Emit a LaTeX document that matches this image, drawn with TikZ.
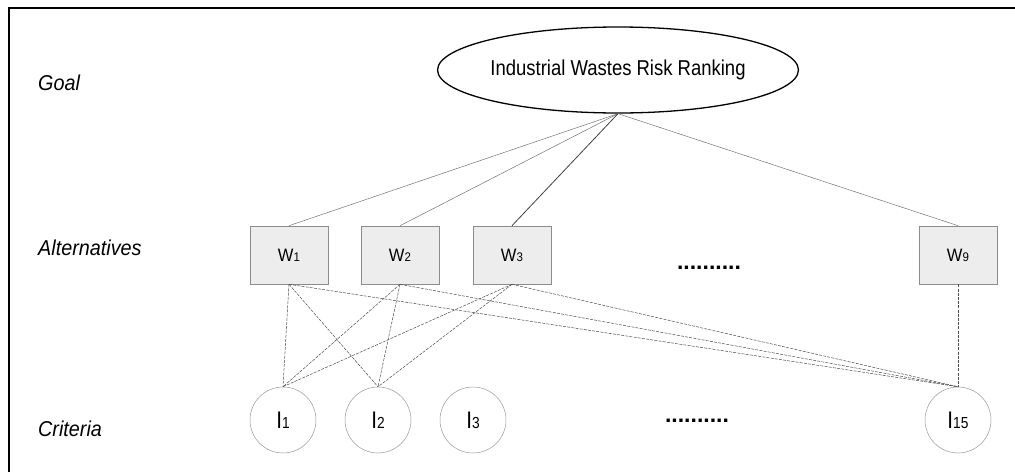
\documentclass[tikz,border=0pt]{standalone}
\usepackage{fontspec}
\setmainfont{Liberation Sans}
\newfontfamily\narrowfont{Liberation Sans}[FakeStretch=0.86]
\newfontfamily\labfont{Liberation Sans}[FakeStretch=0.92]
\usetikzlibrary{shapes.geometric}
\tikzset{
  wbox/.style={draw=black!45, fill=black!7, minimum width=78pt, minimum height=58pt, inner sep=0pt, line width=0.6pt},
  icirc/.style={circle, draw=black!40, fill=white, minimum size=66pt, inner sep=0pt, line width=0.5pt},
  goalell/.style={ellipse, draw=black, line width=1.3pt, minimum width=352pt, minimum height=86pt, inner sep=0pt, font=\narrowfont\fontsize{21.5}{22}\selectfont},
  lvl/.style={anchor=west, inner sep=0pt, font=\labfont\fontsize{21.5}{22}\selectfont\itshape},
  solidln/.style={draw=black!55, line width=0.5pt},
  dashln/.style={draw=black!70, line width=0.5pt, dash pattern=on 3pt off 1.2pt},
  dotsrow/.style={inner sep=0pt, font=\fontsize{23}{23}\selectfont\bfseries},
  frameln/.style={draw=black, line width=2pt}
}
\newcommand{\wlab}[1]{{\labfont\fontsize{18}{18}\selectfont W}{\labfont\fontsize{12.5}{12.5}\selectfont #1}}
\newcommand{\ilab}[1]{{\narrowfont\fontsize{24}{24}\selectfont I}{\narrowfont\fontsize{16}{16}\selectfont #1}}
\begin{document}
\begin{tikzpicture}[x=1pt,y=-1pt]
\useasboundingbox (0,0) rectangle (1015,472);
\coordinate (fA) at (9,472);
\coordinate (fB) at (9,8);
\coordinate (fC) at (1015,8);
\draw[frameln] (fA) -- (fB) -- (fC);

\node[lvl] (lgoal) at (38,83) {Goal};
\node[lvl] (lalt) at (38,248) {Alternatives};
\node[lvl] (lcrit) at (38,429) {Criteria};

\node[goalell] (goal) at (618,70) {\raisebox{-5pt}{Industrial Wastes Risk Ranking}};

\node[wbox] (w1) at (289,255) {\wlab{1}};
\node[wbox] (w2) at (400,255) {\wlab{2}};
\node[wbox] (w3) at (512,255) {\wlab{3}};
\node[wbox] (w9) at (958,255) {\wlab{9}};

\node[icirc] (i1) at (283,420) {\ilab{1}};
\node[icirc] (i2) at (378,420) {\ilab{2}};
\node[icirc] (i3) at (473,420) {\ilab{3}};
\node[icirc] (i15) at (958,420) {\ilab{15}};

\node[dotsrow] (dA) at (709,268) {..........};
\node[dotsrow] (dC) at (697,421) {..........};

\draw[solidln] (goal.south) -- (w1.north);
\draw[solidln] (goal.south) -- (w2.north);
\draw[solidln, draw=black!75, line width=0.8pt] (goal.south) -- (w3.north);
\draw[solidln] (goal.south) -- (w9.north);

\foreach \w in {w1,w2,w3}{
  \foreach \i in {i1,i2,i15}{
    \draw[dashln] (\w.south) -- (\i.north);
  }
}
\draw[dashln] (w9.south) -- (i15.north);
\end{tikzpicture}
\end{document}
